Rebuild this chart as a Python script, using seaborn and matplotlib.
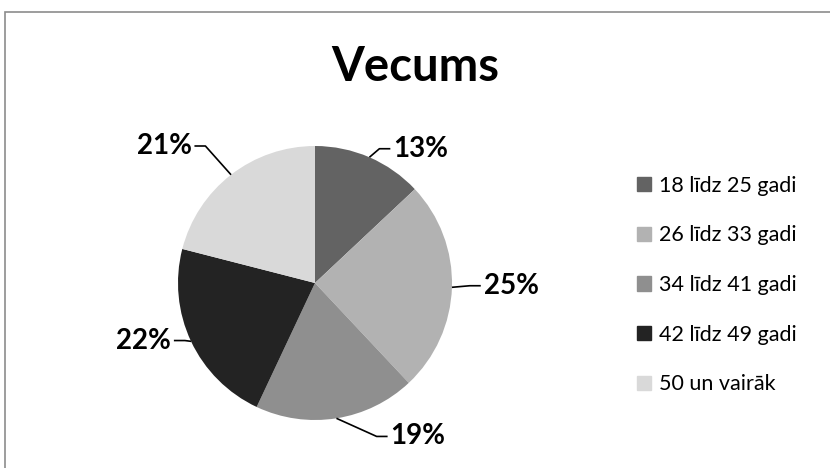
import numpy as np
import matplotlib
matplotlib.use("Agg")
import matplotlib.pyplot as plt
from matplotlib.patches import Rectangle
import seaborn as sns

# data
categories = ["18 līdz 25 gadi", "26 līdz 33 gadi", "34 līdz 41 gadi",
              "42 līdz 49 gadi", "50 un vairāk"]
shares = [13, 25, 19, 22, 21]
colors = ["#636363", "#b2b2b2", "#8f8f8f", "#232323", "#d9d9d9"]

# where each label sits (pie radius units) and which side it hangs from
label_pos = [(0.57, 0.98), (1.23, -0.02), (0.55, -1.12), (-1.05, -0.42), (-0.90, 1.0)]
label_ha = ["left", "left", "left", "right", "right"]

sns.set_theme(style="white")
plt.rcParams["font.family"] = ["Lato", "DejaVu Sans"]
plt.rcParams["text.color"] = "black"

W, H = 830, 468
fig = plt.figure(figsize=(W / 100, H / 100), dpi=100)

# pie axes: centre (315, 283) px, radius 137 px
cx, cy, r = 315, 283, 137
ax = fig.add_axes([(cx - r) / W, (H - cy - r) / H, 2 * r / W, 2 * r / H])
wedges, _ = ax.pie(shares, colors=colors, startangle=90, counterclock=False,
                   wedgeprops=dict(linewidth=0))
ax.set_xlim(-1, 1)
ax.set_ylim(-1, 1)
ax.set_aspect("equal")
ax.axis("off")

for w, val, (tx, ty), ha in zip(wedges, shares, label_pos, label_ha):
    mid = np.deg2rad((w.theta1 + w.theta2) / 2)
    ex, ey = np.cos(mid), np.sin(mid)
    side = 1 if ha == "left" else -1
    elbow_x = tx - side * 0.10
    end_x = tx - side * 0.02
    if side * (elbow_x - ex) < 0:
        elbow_x = ex
    ax.plot([ex, elbow_x, end_x], [ey, ty, ty], color="black", lw=1.2,
            clip_on=False, solid_capstyle="butt")
    ax.text(tx, ty, f"{val}%", ha=ha, va="center", fontsize=20,
            fontweight="bold", color="black", clip_on=False)

fig.text(415 / W, 1 - 67 / H, "Vecums", ha="center", va="center",
         fontsize=34, fontweight="bold", color="black")

handles = [Rectangle((0, 0), 1, 1, color=c) for c in colors]
leg = fig.legend(handles, categories, loc="center left",
                 bbox_to_anchor=(626 / W, 1 - 285 / H), frameon=False,
                 fontsize=15.5, handlelength=0.65, handleheight=0.65,
                 handletextpad=0.4, labelspacing=1.38, borderpad=0)
for t in leg.get_texts():
    t.set_color("black")

# outer chart frame
fig.patches.append(Rectangle((4.5 / W, -0.05), 1.0, 1 - 11.5 / H + 0.05,
                             transform=fig.transFigure, fill=False,
                             edgecolor="#8c8c8c", lw=1.2))

fig.savefig("out.png", dpi=100, facecolor="white")
